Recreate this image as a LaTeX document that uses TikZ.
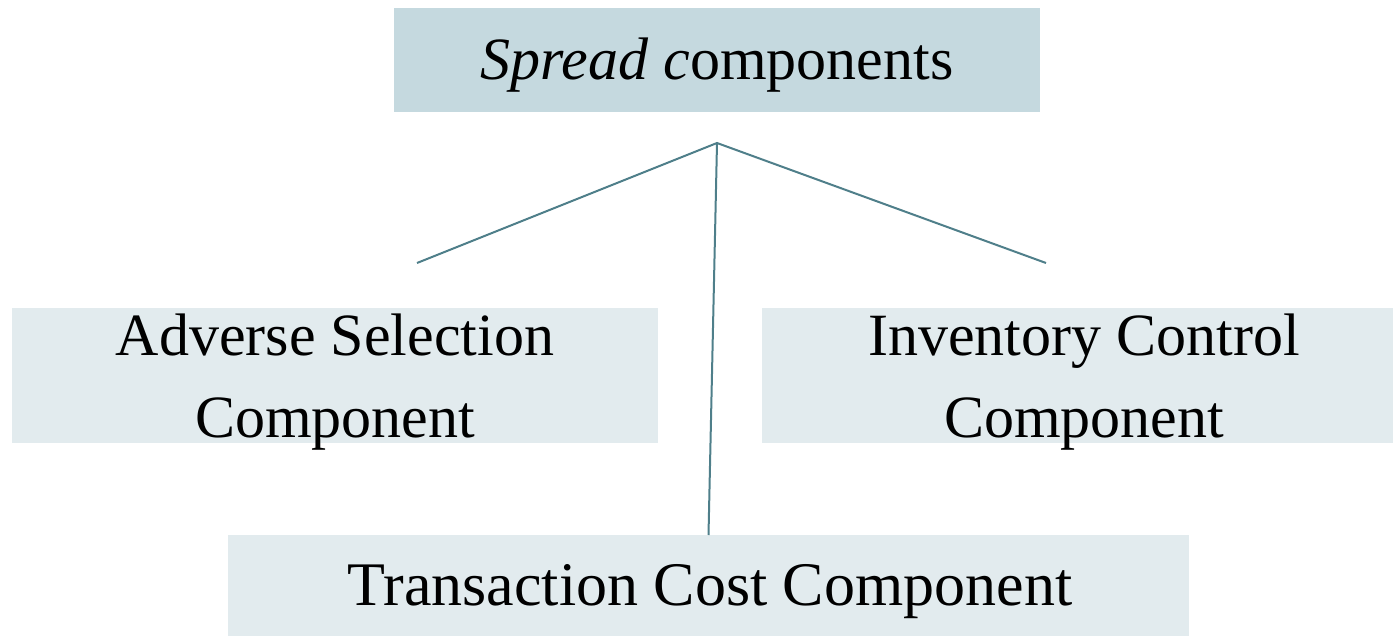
\documentclass[tikz,border=0pt]{standalone}
\usepackage{fontspec}
\setmainfont{Liberation Serif}
\definecolor{topfill}{HTML}{C5D9DF}
\definecolor{subfill}{HTML}{E2EBEE}
\definecolor{linkcol}{HTML}{4F7F8A}
\begin{document}
\begin{tikzpicture}[x=1pt,y=-1pt,
  boxfill/.style={inner sep=0pt, outer sep=0pt, fill=#1},
  lbl/.style={inner sep=0pt, anchor=base, align=center, font=\fontsize{60}{82}\selectfont},
  link/.style={draw=linkcol, line width=2pt}]
  \useasboundingbox (0,0) rectangle (1393,636);
  % boxes
  \node[boxfill=topfill, minimum width=646pt, minimum height=104pt] (top) at (717,60) {};
  \node[boxfill=subfill, minimum width=646pt, minimum height=135pt] (adv) at (335,375.5) {};
  \node[boxfill=subfill, minimum width=631pt, minimum height=135pt] (inv) at (1077.5,375.5) {};
  \node[boxfill=subfill, minimum width=961pt, minimum height=101pt] (trc) at (708.5,585.5) {};
  % labels (base anchor sits on the last line)
  \node[lbl] (toplbl) at (717,80) {\textit{Spread c}omponents};
  \node[lbl] (advlbl) at (335,437) {Adverse Selection\\Component};
  \node[lbl] (invlbl) at (1084,437) {Inventory Control\\Component};
  \node[lbl, font=\fontsize{62}{82}\selectfont] (trclbl) at (710,605) {Transaction Cost Component};
  % connectors
  \coordinate (hub) at (717,143);
  \coordinate (advend) at (417,263);
  \coordinate (invend) at (1046,263);
  \draw[link] (advend) -- (hub) -- (invend);
  \draw[link] (hub) -- (trc.north);
\end{tikzpicture}
\end{document}
